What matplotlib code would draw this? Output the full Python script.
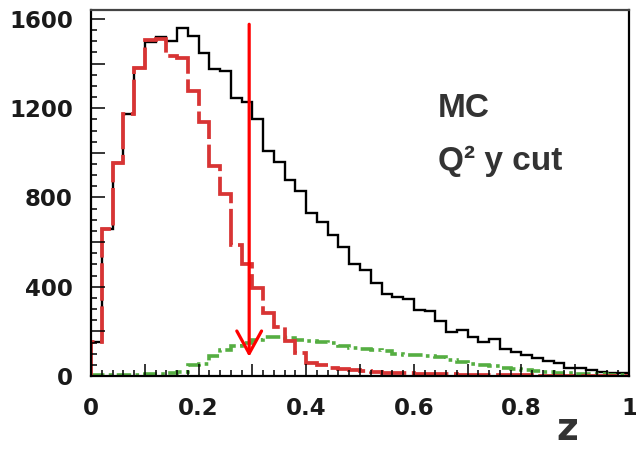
"""
MC z distribution with Q^2, y cut: total (black), signal (red dashed),
background (green dash-dot), and the cut position marked by a red arrow.
"""

import matplotlib

matplotlib.use("Agg")
import matplotlib.pyplot as plt
import numpy as np
from matplotlib.ticker import FuncFormatter, MultipleLocator

# 50 bins of width 0.02 in z
z_edges = np.linspace(0.0, 1.0, 51)

total_counts = [
    153, 657, 953, 1175, 1382, 1497, 1519, 1501, 1558, 1523,
    1446, 1375, 1367, 1245, 1226, 1152, 1010, 958, 879, 831,
    730, 690, 633, 578, 503, 474, 417, 366, 352, 345,
    295, 290, 248, 198, 206, 173, 153, 164, 119, 109,
    94, 79, 68, 57, 34, 34, 27, 19, 15, 12,
]

signal_counts = [
    153, 657, 953, 1175, 1382, 1505, 1510, 1434, 1424, 1278,
    1136, 943, 815, 585, 500, 393, 283, 219, 155, 103,
    60, 48, 38, 30, 25, 21, 18, 15, 13, 12,
    10, 9, 8, 7, 6, 5, 5, 4, 4, 3,
    3, 2, 2, 2, 1, 1, 1, 0, 0, 0,
]

background_counts = [
    3, 3, 4, 5, 6, 8, 10, 15, 20, 50,
    52, 90, 116, 135, 146, 162, 176, 176, 172, 163,
    158, 152, 148, 133, 126, 122, 118, 112, 100, 95,
    93, 89, 83, 70, 64, 55, 49, 45, 38, 30,
    27, 22, 19, 15, 12, 10, 8, 7, 5, 4,
]

cut_z = 0.294
arrow_top = 1576
arrow_tip = 86

y_max = 1640


def y_label(v, _pos):
    return f"{int(round(v))}" if round(v) % 400 == 0 else ""


def x_label(v, _pos):
    k = int(round(v * 10))
    if k % 2:
        return ""
    if k == 0:
        return "0"
    if k == 10:
        return "1"
    return f"{v:.1f}"


def main() -> None:
    fig = plt.figure(figsize=(6.36, 4.49), dpi=100)
    ax = fig.add_axes([91 / 636, 1 - 376 / 449, 538 / 636, 366 / 449])

    ax.stairs(total_counts, z_edges, color="black", lw=1.7)
    ax.stairs(background_counts, z_edges, color="#55ae42", lw=2.6,
              linestyle=(0, (4, 1.2, 1, 1.2)))
    ax.stairs(signal_counts, z_edges, color="#d83434", lw=2.7,
              linestyle=(0, (10, 1.5)))

    ax.annotate(
        "", xy=(cut_z, arrow_tip), xytext=(cut_z, arrow_top),
        arrowprops=dict(arrowstyle="->,head_length=0.6,head_width=0.33",
                        color="#ff0000", lw=2.3, shrinkA=0, shrinkB=0,
                        mutation_scale=27),
    )

    ax.set_xlim(0, 1)
    ax.set_ylim(0, y_max)

    ax.xaxis.set_major_locator(MultipleLocator(0.1))
    ax.xaxis.set_minor_locator(MultipleLocator(0.02))
    ax.yaxis.set_major_locator(MultipleLocator(200))
    ax.yaxis.set_minor_locator(MultipleLocator(50))
    ax.xaxis.set_major_formatter(FuncFormatter(x_label))
    ax.yaxis.set_major_formatter(FuncFormatter(y_label))

    ax.tick_params(which="both", direction="in", top=False, right=False,
                   color="black", width=1.1)
    ax.tick_params(axis="y", which="major", length=10, pad=13)
    ax.tick_params(axis="y", which="minor", length=4.5)
    ax.tick_params(axis="x", which="major", length=9, pad=15)
    ax.tick_params(axis="x", which="minor", length=4)
    for lab in ax.get_xticklabels() + ax.get_yticklabels():
        lab.set_fontfamily("DejaVu Sans")
        lab.set_fontweight("bold")
        lab.set_fontsize(16.5)
        lab.set_color("#1a1a1a")

    for side in ["left", "bottom", "right"]:
        ax.spines[side].set_linewidth(1.6)
        ax.spines[side].set_color("black")
    ax.spines["top"].set_linewidth(1.6)
    ax.spines["top"].set_color("#444444")

    fig.text(438 / 636, 1 - 117 / 449, "MC", fontsize=24, fontweight="bold",
             family="Liberation Sans", color="#333333", va="baseline")
    fig.text(438 / 636, 1 - 170 / 449, "Q² y cut", fontsize=24,
             fontweight="bold", family="Liberation Sans", color="#333333",
             va="baseline")
    fig.text(567 / 636, 1 / 449, "z", fontsize=27, fontweight="bold",
             family="DejaVu Sans", color="#333333", ha="center", va="bottom")

    fig.savefig("out.png", dpi=100)
    plt.close(fig)


if __name__ == "__main__":
    main()
